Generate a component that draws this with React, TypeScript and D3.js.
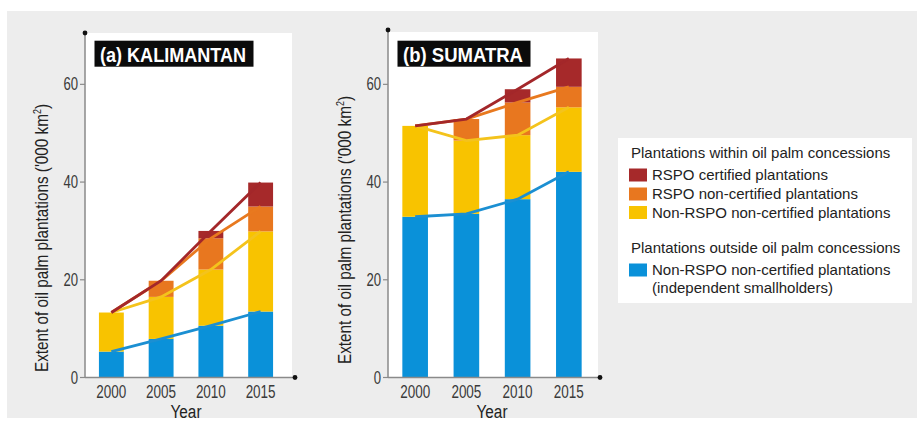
import React from 'react';
import * as d3 from 'd3';

const years = ['2000', '2005', '2010', '2015'];
const yTicks = [0, 20, 40, 60];

// Kalimantan ('000 km2)
const kalSmallholders = [5.3, 7.9, 10.6, 13.5];
const kalNonRspo = [8.0, 8.6, 11.5, 16.4];
const kalRspoNonCert = [0, 3.3, 6.4, 5.1];
const kalRspoCert = [0, 0, 1.5, 4.9];

// Sumatra ('000 km2)
const sumSmallholders = [32.9, 33.5, 36.5, 42.1];
const sumNonRspo = [18.6, 15.0, 13.1, 13.2];
const sumRspoNonCert = [0, 4.4, 6.7, 4.2];
const sumRspoCert = [0, 0, 2.7, 5.8];

const keys = ['small', 'nonRspo', 'rspoNonCert', 'rspoCert'];
const fillColors = ['#0a91d9', '#f8c300', '#e8771f', '#a6292a'];
const lineColors = ['#1b8fd2', '#f4c31c', '#e8791f', '#a3272a'];

const legendGroup1 = 'Plantations within oil palm concessions';
const legendItems1 = ['RSPO certified plantations', 'RSPO non-certified plantations', 'Non-RSPO non-certified plantations'];
const legendColors1 = ['#a6292a', '#e8771f', '#f8c300'];
const legendGroup2 = 'Plantations outside oil palm concessions';
const legendItems2 = ['Non-RSPO non-certified plantations', '(independent smallholders)'];

const FONT = "'Liberation Sans', Arial, Helvetica, sans-serif";
const AXIS_TEXT = '#3a3a3a';

type PanelProps = {
  title: string;
  titleWidth: number;
  small: number[];
  nonRspo: number[];
  rspoNonCert: number[];
  rspoCert: number[];
  axisX: number;
  rangeEnd: number;
  panelRight: number;
  panelTop: number;
  dotTop: number;
  dotRight: number;
  labelX: number;
  labelY: number;
};

function Panel(p: PanelProps) {
  const yScale = d3.scaleLinear().domain([0, 70]).range([377.5, 35.5]);
  const xScale = d3.scaleBand<string>().domain(years).range([p.axisX, p.rangeEnd]).paddingInner(0.5).paddingOuter(0.28);
  const rows = years.map((y, i) => ({
    year: y,
    small: p.small[i],
    nonRspo: p.nonRspo[i],
    rspoNonCert: p.rspoNonCert[i],
    rspoCert: p.rspoCert[i],
  }));
  const stacked = d3.stack<any>().keys(keys)(rows);
  const bw = xScale.bandwidth();
  const cx = (y: string) => (xScale(y) as number) + bw / 2;
  const line = d3
    .line<any>()
    .x((d) => cx(d.data.year))
    .y((d) => yScale(d[1]));
  const y0 = yScale(0);
  return (
    <g>
      <rect x={p.axisX} y={p.panelTop} width={p.panelRight - p.axisX} height={y0 - p.panelTop} fill="#ffffff" />
      {stacked.map((layer, li) => (
        <g key={li}>
          {layer.map((d: any, i: number) =>
            d[1] - d[0] > 0 ? (
              <rect
                key={i}
                x={xScale(d.data.year)}
                y={yScale(d[1])}
                width={bw}
                height={yScale(d[0]) - yScale(d[1])}
                fill={fillColors[li]}
              />
            ) : null
          )}
        </g>
      ))}
      {stacked.map((layer, li) => (
        <path key={'l' + li} d={line(layer as any) || ''} fill="none" stroke={lineColors[li]} strokeWidth={2.8} />
      ))}
      {/* axes */}
      <line x1={p.axisX} x2={p.axisX} y1={p.dotTop} y2={y0} stroke="#8a8a8a" strokeWidth={1.5} />
      <line x1={p.axisX} x2={p.dotRight} y1={y0} y2={y0} stroke="#8a8a8a" strokeWidth={1.5} />
      <circle cx={p.axisX} cy={p.dotTop} r={2.4} fill="#111" />
      <circle cx={p.dotRight} cy={y0} r={2.4} fill="#111" />
      {yTicks.map((t) => (
        <g key={t}>
          <line x1={p.axisX - 5} x2={p.axisX} y1={yScale(t)} y2={yScale(t)} stroke="#8a8a8a" strokeWidth={1.2} />
          <text
            x={p.axisX - 7}
            y={yScale(t) + 6}
            textAnchor="end"
            fontFamily={FONT}
            fontSize={17.5}
            fill={AXIS_TEXT}
            textLength={String(t).length * 7.3}
            lengthAdjust="spacingAndGlyphs"
          >
            {t}
          </text>
        </g>
      ))}
      {years.map((y) => (
        <text
          key={y}
          x={cx(y) - 15}
          y={398}
          fontFamily={FONT}
          fontSize={17.5}
          fill={AXIS_TEXT}
          textLength={30}
          lengthAdjust="spacingAndGlyphs"
        >
          {y}
        </text>
      ))}
      <text
        x={(p.axisX + p.rangeEnd) / 2 - 15.5}
        y={418}
        fontFamily={FONT}
        fontSize={18}
        fill="#222"
        textLength={31}
        lengthAdjust="spacingAndGlyphs"
      >
        Year
      </text>
      <text
        transform={`translate(${p.labelX},${p.labelY + 134}) rotate(-90)`}
        x={0}
        y={0}
        fontFamily={FONT}
        fontSize={19}
        fill="#222"
        textLength={268}
        lengthAdjust="spacingAndGlyphs"
      >
        Extent of oil palm plantations ('000 km<tspan dy={-7} fontSize={11}>2</tspan><tspan dy={7}>)</tspan>
      </text>
      {/* title */}
      <rect x={p.axisX + 9.5} y={40.7} width={p.titleWidth + 13} height={26} fill="#0b0b0b" />
      <text
        x={p.axisX + 15}
        y={61.5}
        fontFamily={FONT}
        fontWeight="bold"
        fontSize={20}
        fill="#ffffff"
        textLength={p.titleWidth}
        lengthAdjust="spacingAndGlyphs"
      >
        {p.title}
      </text>
    </g>
  );
}

function Legend() {
  const x0 = 618;
  const sw = 629;
  const tx = 652;
  const fs = 15;
  const rows1 = [174.5, 193.5, 212];
  return (
    <g fontFamily={FONT} fontSize={fs} fill="#222">
      <rect x={x0} y={138} width={294} height={165} fill="#ffffff" />
      <text x={631} y={158}>{legendGroup1}</text>
      {legendItems1.map((t, i) => (
        <g key={t}>
          <rect x={sw} y={rows1[i] - 6} width={18} height={13} fill={legendColors1[i]} />
          <text x={tx} y={rows1[i] + 5.5}>{t}</text>
        </g>
      ))}
      <text x={631} y={253}>{legendGroup2}</text>
      <rect x={sw} y={269.5 - 6} width={18} height={13} fill="#0a91d9" />
      <text x={tx} y={275}>{legendItems2[0]}</text>
      <text x={tx} y={292.5}>{legendItems2[1]}</text>
    </g>
  );
}

export default function App() {
  return (
    <svg
      width={917}
      height={421}
      style={{ position: 'absolute', left: 0, top: 0, display: 'block', background: '#ffffff' }}
    >
      <rect x={7} y={11} width={910} height={407} fill="#ededed" />
      <Panel
        title="(a) KALIMANTAN"
        titleWidth={146}
        small={kalSmallholders}
        nonRspo={kalNonRspo}
        rspoNonCert={kalRspoNonCert}
        rspoCert={kalRspoCert}
        axisX={85}
        rangeEnd={287}
        panelRight={292}
        panelTop={33}
        dotTop={33}
        dotRight={295}
        labelX={48}
        labelY={238}
      />
      <Panel
        title="(b) SUMATRA"
        titleWidth={120}
        small={sumSmallholders}
        nonRspo={sumNonRspo}
        rspoNonCert={sumRspoNonCert}
        rspoCert={sumRspoCert}
        axisX={388}
        rangeEnd={596}
        panelRight={598}
        panelTop={32}
        dotTop={30}
        dotRight={600}
        labelX={351}
        labelY={230}
      />
      <Legend />
    </svg>
  );
}
